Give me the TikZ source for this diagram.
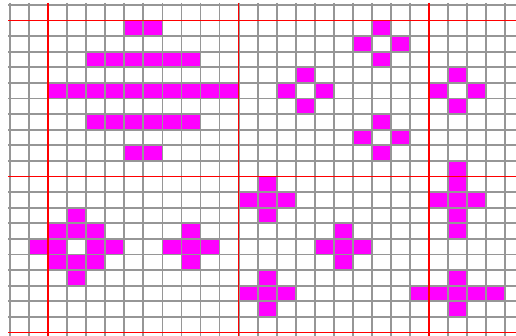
\documentclass[tikz,border=0pt]{standalone}
\usepackage{tikz}
\definecolor{cellfill}{RGB}{255, 0, 255}
\definecolor{gridgray}{RGB}{150, 150, 150}
\definecolor{majorred}{RGB}{255, 0, 0}

\begin{document}
\begin{tikzpicture}[x=19.05pt, y=-15.6pt,
    cell/.style={fill=cellfill},
    minor/.style={draw=gridgray, line width=1.8pt},
    major/.style={draw=majorred, line width=1.3pt}]
  \useasboundingbox (-0.525, -0.32) rectangle (26.562, 21.218);

  % Stacked bars
  \foreach \c/\r in {6/1, 7/1, 6/9, 7/9}
    \fill[cell] (\c,\r) rectangle ++(1,1);
  \foreach \c in {4,...,9} {
    \fill[cell] (\c,3) rectangle ++(1,1);
    \fill[cell] (\c,7) rectangle ++(1,1);
  }
  \foreach \c in {2,...,11}
    \fill[cell] (\c,5) rectangle ++(1,1);

  % Hollow diamonds
  \foreach \x/\y in {19/2, 15/5, 19/8, 23/5}
    \foreach \dx/\dy in {0/-1, -1/0, 1/0, 0/1}
      \fill[cell] (\x+\dx,\y+\dy) rectangle ++(1,1);

  % Ring with hole
  \foreach \c/\r in {3/13, 2/14, 3/14, 4/14, 1/15, 2/15, 4/15, 5/15,
                     2/16, 3/16, 4/16, 3/17}
    \fill[cell] (\c,\r) rectangle ++(1,1);

  % Plus signs
  \foreach \x/\y in {9/15, 13/12, 17/15, 13/18}
    \foreach \dx/\dy in {0/-1, -1/0, 0/0, 1/0, 0/1}
      \fill[cell] (\x+\dx,\y+\dy) rectangle ++(1,1);

  % Long crosses
  \foreach \r in {10,...,14}
    \fill[cell] (23,\r) rectangle ++(1,1);
  \foreach \c in {22,24}
    \fill[cell] (\c,12) rectangle ++(1,1);
  \foreach \c in {21,...,25}
    \fill[cell] (\c,18) rectangle ++(1,1);
  \foreach \r in {17,19}
    \fill[cell] (23,\r) rectangle ++(1,1);

  % Grid
  \foreach \k in {0,...,26}
    \draw[minor] (\k,-0.13) -- (\k,21.3);
  \foreach \j in {0,...,21}
    \draw[minor] (-0.1,\j) -- (26.6,\j);

  % Every tenth line
  \foreach \k in {2,12,22}
    \draw[major] (\k,-0.13) -- (\k,21.3);
  \foreach \j in {1,11,21}
    \draw[major] (-0.1,\j) -- (26.6,\j);
\end{tikzpicture}
\end{document}
